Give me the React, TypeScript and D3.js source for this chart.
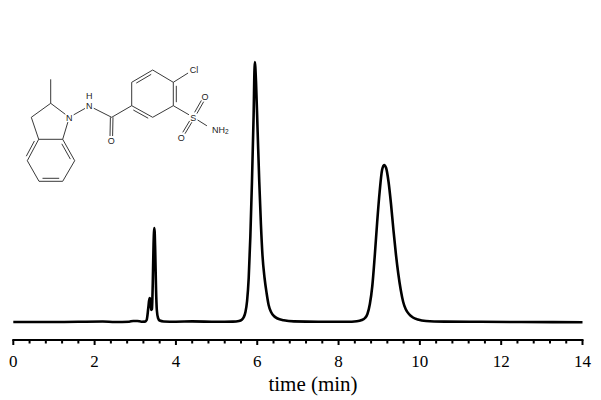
import React from "react";
import * as d3 from "d3";

const times = [0, 1, 2.2, 2.5, 2.85, 2.95, 3.05, 3.15, 3.24, 3.28, 3.32, 3.35, 3.37, 3.39, 3.41, 3.43, 3.45, 3.47, 3.49, 3.51, 3.53, 3.56, 3.6, 3.7, 4, 4.4, 5, 5.4, 5.55, 5.62, 5.67, 5.71, 5.75, 5.79, 5.83, 5.87, 5.91, 5.94, 5.97, 6.01, 6.05, 6.09, 6.13, 6.18, 6.23, 6.28, 6.34, 6.41, 6.5, 6.65, 6.9, 7.5, 8.2, 8.45, 8.57, 8.65, 8.71, 8.77, 8.83, 8.89, 8.95, 9.01, 9.07, 9.12, 9.17, 9.23, 9.29, 9.35, 9.41, 9.47, 9.53, 9.59, 9.65, 9.73, 9.83, 9.95, 10.15, 10.6, 11.5, 12.5, 14];
const signal = [0, 0, 0.5, 0, 0.3, 1, 1, 0.3, 0.4, 2, 14, 24, 23, 12, 13, 38, 78, 94, 72, 34, 12, 4, 1.5, 0.5, 0.3, 0.6, 0.2, 0.4, 1, 2.2, 5, 10, 21, 44, 85, 140, 205, 260, 240, 190, 140, 98, 66, 44, 29, 17, 10, 6, 3.5, 1.8, 0.6, 0.2, 0.2, 0.8, 2, 4, 8, 18, 36, 66, 100, 130, 152, 157, 154, 140, 118, 92, 68, 48, 32, 20, 13, 8, 4.5, 2.5, 1, 0.4, 0.2, 0, -0.3];
const xTicks = d3.range(0, 14.01, 0.4);
const xLabels = [0, 2, 4, 6, 8, 10, 12, 14];
const xTitle = "time (min)";

// Skeletal formula of the analyte, in molecule units
const atoms: Record<string, [number, number]> = {
  me: [50.7, 79.3], c2: [50.7, 103.3], n1: [69.3, 117.3], c3: [31.3, 117.3], c3a: [38.7, 139.3], c7a: [62.7, 139.3],
  c4: [27.3, 160.7], c5: [39, 181.3], c6: [62.7, 181.3], c7: [74.7, 160.7], nh: [89.3, 106], co: [111.7, 117.3], o: [111.2, 141],
  r1: [131.7, 105.7], r2: [131.7, 82.3], r3: [152.7, 70], r4: [173.3, 82.3], r5: [173.3, 105.7], r6: [152.7, 117.3],
  cl: [194, 69.3], s: [193.3, 117.3], o1: [205, 96.7], o2: [181.3, 137.3], nh2: [212, 129],
};
const singleBonds = [["me", "c2"], ["c2", "n1"], ["c2", "c3"], ["c3", "c3a"], ["n1", "c7a"], ["c3a", "c4"], ["c4", "c5"], ["c5", "c6"], ["c6", "c7"], ["c7", "c7a"], ["c7a", "c3a"], ["n1", "nh"], ["nh", "co"], ["co", "r1"], ["r1", "r2"], ["r2", "r3"], ["r3", "r4"], ["r4", "r5"], ["r5", "r6"], ["r6", "r1"], ["r4", "cl"], ["r5", "s"], ["s", "nh2"]];
const innerBonds = [["c3a", "c4", 1], ["c5", "c6", -1], ["c7", "c7a", -1], ["r2", "r3", 1], ["r4", "r5", -1], ["r6", "r1", -1]] as [string, string, number][];
const doubleBonds = [["co", "o"], ["s", "o1"], ["s", "o2"]];
const labels: [string, string, number, number][] = [
  ["N", "n1", 0, 0], ["N", "nh", 0, 0], ["H", "nh", 0, -10.5], ["O", "o", 0, 0], ["Cl", "cl", 0, 0], ["S", "s", 0, 0], ["O", "o1", 0, 0], ["O", "o2", 0, 0],
];

const x = d3.scaleLinear().domain([0, 14]).range([13.3, 582.5]);
const y = d3.scaleLinear().domain([0, 260]).range([322, 62]);
const line = d3.line<number>().x((_, i) => x(times[i])).y((d) => y(d)).curve(d3.curveMonotoneX);
const shorten = (a: [number, number], b: [number, number], ta: number, tb: number) => {
  const dx = b[0] - a[0], dy = b[1] - a[1], l = Math.hypot(dx, dy);
  return [a[0] + (dx * ta) / l, a[1] + (dy * ta) / l, b[0] - (dx * tb) / l, b[1] - (dy * tb) / l];
};
const gap: Record<string, number> = { n1: 5, nh: 5, o: 5, cl: 7, s: 5, o1: 5, o2: 5, nh2: 6 };

export default function App() {
  return (
    <svg width={601} height={400} style={{ position: "absolute", left: 0, top: 0, background: "#fff" }}>
      <path d={line(signal) ?? ""} fill="none" stroke="#000" strokeWidth={2.6} strokeLinejoin="round" />
      <line x1={x(0) - 1} x2={x(14) + 1} y1={340} y2={340} stroke="#000" strokeWidth={2} />
      {xTicks.map((t) => {
        const i = Math.round(t / 0.4);
        const major = i % 5 === 0;
        return <line key={i} x1={x(t)} x2={x(t)} y1={340} y2={major ? 345 : 343.5} stroke="#000" strokeWidth={2} />;
      })}
      {xLabels.map((t) => (
        <text key={t} x={x(t)} y={367} textAnchor="middle" fontFamily="'Liberation Serif'" fontSize={17} fill="#000">{t}</text>
      ))}
      <text x={313} y={391} textAnchor="middle" fontFamily="'Liberation Serif'" fontSize={21} fill="#000">{xTitle}</text>
      <g stroke="#222" strokeWidth={0.9} fill="none">
        {singleBonds.map(([a, b]) => {
          const [x1, y1, x2, y2] = shorten(atoms[a], atoms[b], gap[a] ?? 0, gap[b] ?? 0);
          return <line key={a + b} x1={x1} y1={y1} x2={x2} y2={y2} />;
        })}
        {innerBonds.map(([a, b, side]) => {
          const [p, q] = [atoms[a], atoms[b]];
          const l = Math.hypot(q[0] - p[0], q[1] - p[1]);
          const nx = (-(q[1] - p[1]) / l) * 3 * side, ny = ((q[0] - p[0]) / l) * 3 * side;
          const [x1, y1, x2, y2] = shorten(p, q, 3.5, 3.5);
          return <line key={a + b} x1={x1 + nx} y1={y1 + ny} x2={x2 + nx} y2={y2 + ny} />;
        })}
        {doubleBonds.map(([a, b]) => {
          const [p, q] = [atoms[a], atoms[b]];
          const [x1, y1, x2, y2] = shorten(p, q, gap[a] ?? 0, gap[b] ?? 0);
          const l = Math.hypot(q[0] - p[0], q[1] - p[1]);
          const nx = (-(q[1] - p[1]) / l) * 1.3, ny = ((q[0] - p[0]) / l) * 1.3;
          return <g key={a + b}><line x1={x1 + nx} y1={y1 + ny} x2={x2 + nx} y2={y2 + ny} /><line x1={x1 - nx} y1={y1 - ny} x2={x2 - nx} y2={y2 - ny} /></g>;
        })}
      </g>
      <g fontFamily="'Liberation Sans'" fontSize={9} fill="#222" textAnchor="middle">
        {labels.map(([t, a, dx, dy], i) => (
          <text key={i} x={atoms[a][0] + dx} y={atoms[a][1] + dy + 3.2}>{t}</text>
        ))}
        <text x={212} y={132.5} textAnchor="start">NH<tspan fontSize={6.5} dy={1.5}>2</tspan></text>
      </g>
    </svg>
  );
}
